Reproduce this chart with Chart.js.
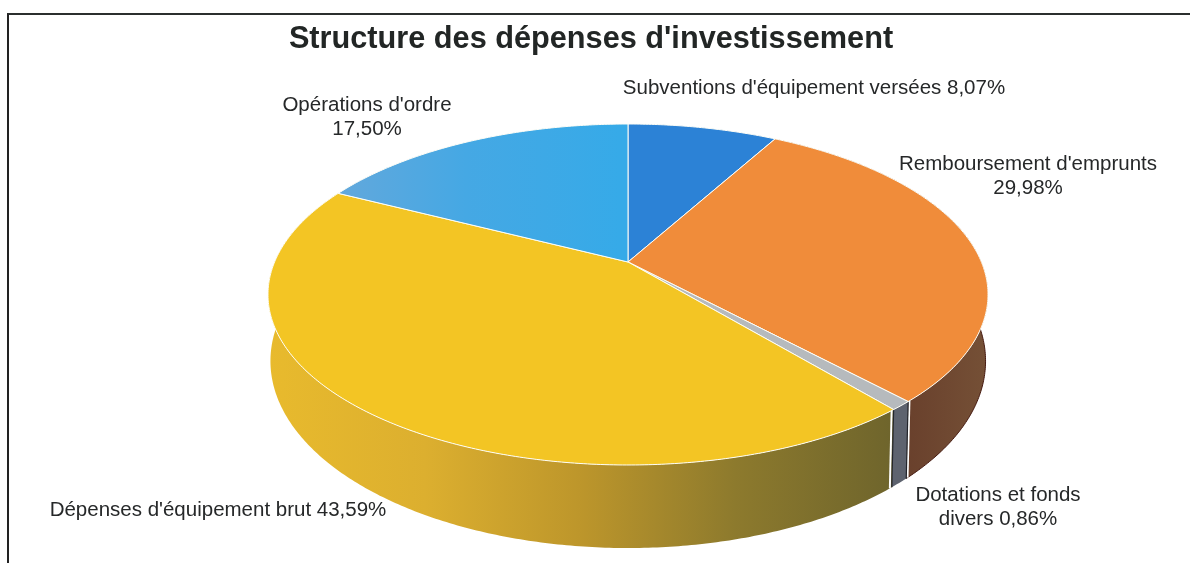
<!DOCTYPE html>
<html lang="fr">
<head>
<meta charset="utf-8">
<title>Structure des dépenses d'investissement</title>
<script src="https://cdn.jsdelivr.net/npm/chart.js@4"></script>
<style>
  html, body { margin: 0; padding: 0; background: #fff; overflow: hidden; }
  #frame { position: absolute; left: 7px; top: 13px; right: 0; bottom: 0; border-left: 2px solid #222; border-top: 2px solid #2b2f2e; }
  #wrap { position: absolute; left: 0; top: 0; width: 1182px; height: 563px; }
</style>
</head>
<body>
<div id="frame"></div>
<div id="wrap"><canvas id="pieChart"></canvas></div>
<script>
  // Data
  const chartTitle = "Structure des dépenses d'investissement";
  const categories = ["Subventions d'équipement versées", "Remboursement d'emprunts", "Dotations et fonds divers", "Dépenses d'équipement brut", "Opérations d'ordre"];
  const shares = [8.07, 29.98, 0.86, 43.59, 17.50];

  // Label layout: one list of line breaks per slice, and where each label is centred
  const labelLines = [
    ["Subventions d'équipement versées {v}"],
    ["Remboursement d'emprunts", "{v}"],
    ["Dotations et fonds", "divers {v}"],
    ["Dépenses d'équipement brut {v}"],
    ["Opérations d'ordre", "{v}"]
  ];
  const labelCentres = [[814, 88], [1028, 176], [998, 507], [218, 510], [367, 117]];

  const topColors = ['#2c82d6', '#f08c3a', '#b6babd', '#f3c524', '#3aa8e8'];

  // The pie is a tilted disc seen in perspective: the top and bottom faces
  const topFace = { cx: 628, cy: 262, rx: 353.4, ry: 164.3 };
  const bottomFace = { cx: 628, cy: 325.4, rx: 351, ry: 180.2 };
  const tilt = 0.1906;

  function project(face, angle) {
    const x = Math.cos(angle), y = Math.sin(angle);
    const w = 1 - tilt * y;
    return [face.cx + face.rx * x / w, face.cy + face.ry * y / w];
  }

  function traceRim(ctx, face, from, to, first) {
    const steps = Math.max(2, Math.ceil(Math.abs(to - from) / 0.01));
    for (let i = 0; i <= steps; i++) {
      const p = project(face, from + (to - from) * i / steps);
      if (i === 0 && first) ctx.moveTo(p[0], p[1]);
      else ctx.lineTo(p[0], p[1]);
    }
  }

  function wallPath(ctx, from, to) {
    ctx.beginPath();
    traceRim(ctx, topFace, from, to, true);
    traceRim(ctx, bottomFace, to, from, false);
    ctx.closePath();
  }

  function edgeLine(ctx, angle, color, width) {
    const a = project(topFace, angle), b = project(bottomFace, angle);
    ctx.beginPath();
    ctx.moveTo(a[0], a[1]);
    ctx.lineTo(b[0], b[1]);
    ctx.strokeStyle = color;
    ctx.lineWidth = width;
    ctx.stroke();
  }

  function yellowWallFill(ctx) {
    const g = ctx.createLinearGradient(270, 0, 890, 0);
    g.addColorStop(0, '#e8ba2d');
    g.addColorStop(0.25, '#dcaf2f');
    g.addColorStop(0.5, '#bd962b');
    g.addColorStop(0.75, '#8d7a2d');
    g.addColorStop(1, '#6f652c');
    return g;
  }

  function orangeWallFill(ctx) {
    const g = ctx.createLinearGradient(905, 0, 987, 0);
    g.addColorStop(0, '#69402c');
    g.addColorStop(1, '#755036');
    return g;
  }

  function topFill(ctx, i, color) {
    if (i === 4) {
      const g = ctx.createLinearGradient(340, 0, 620, 0);
      g.addColorStop(0, '#62a8dc');
      g.addColorStop(0.45, '#45a8e4');
      g.addColorStop(1, '#36aae8');
      return g;
    }
    return color;
  }

  // Replaces the flat arcs of the library by their projected version,
  // the angles still come from the pie controller
  const perspectivePie = {
    id: 'perspectivePie',
    beforeDatasetsDraw(chart) {
      const ctx = chart.ctx;
      const arcs = chart.getDatasetMeta(0).data;
      ctx.save();

      // side wall, only the slices turned to the viewer show
      arcs.forEach((arc, i) => {
        if (i === 0 || i === 4) return;
        wallPath(ctx, arc.startAngle, arc.endAngle);
        if (i === 1) ctx.fillStyle = orangeWallFill(ctx);
        else if (i === 2) ctx.fillStyle = '#5e636f';
        else ctx.fillStyle = yellowWallFill(ctx);
        ctx.fill();
      });

      // dark outline on the brown wall
      ctx.beginPath();
      traceRim(ctx, bottomFace, arcs[1].startAngle + 0.15, arcs[1].endAngle, true);
      ctx.strokeStyle = '#45190f';
      ctx.lineWidth = 1;
      ctx.stroke();

      // thin slice edges: white outside, dark inside
      edgeLine(ctx, arcs[2].startAngle - 0.005, '#ffffff', 2);
      edgeLine(ctx, arcs[2].endAngle + 0.007, '#ffffff', 2);
      edgeLine(ctx, arcs[2].startAngle, '#22242a', 1.2);
      edgeLine(ctx, arcs[2].endAngle, '#22242a', 1.2);

      // top face
      arcs.forEach((arc, i) => {
        ctx.beginPath();
        ctx.moveTo(topFace.cx, topFace.cy);
        traceRim(ctx, topFace, arc.startAngle, arc.endAngle, false);
        ctx.closePath();
        ctx.fillStyle = topFill(ctx, i, arc.options.backgroundColor);
        ctx.fill();
        ctx.strokeStyle = '#fdfdf6';
        ctx.lineWidth = 1;
        ctx.lineJoin = 'round';
        ctx.stroke();
      });

      ctx.restore();
      return false;
    },
    afterDraw(chart) {
      const ctx = chart.ctx;
      ctx.save();
      ctx.font = '20.5px "Liberation Sans", Arial, sans-serif';
      ctx.fillStyle = '#262829';
      ctx.textAlign = 'center';
      ctx.textBaseline = 'middle';
      labelLines.forEach((lines, i) => {
        const text = shares[i].toFixed(2).replace('.', ',') + '%';
        lines.forEach((line, n) => {
          const y = labelCentres[i][1] + (n - (lines.length - 1) / 2) * 24;
          ctx.fillText(line.replace('{v}', text), labelCentres[i][0], y);
        });
      });
      ctx.restore();
    }
  };

  new Chart(document.getElementById('pieChart'), {
    type: 'pie',
    data: {
      labels: categories,
      datasets: [{
        data: shares,
        backgroundColor: topColors,
        borderWidth: 0
      }]
    },
    plugins: [perspectivePie],
    options: {
      responsive: true,
      maintainAspectRatio: false,
      animation: false,
      plugins: {
        legend: { display: false },
        tooltip: { enabled: false },
        title: {
          display: true,
          text: chartTitle,
          color: '#222625',
          font: { family: '"Liberation Sans", Arial, sans-serif', size: 30.7, weight: 'bold' },
          padding: { top: 21, bottom: 0 }
        }
      }
    }
  });
</script>
</body>
</html>
